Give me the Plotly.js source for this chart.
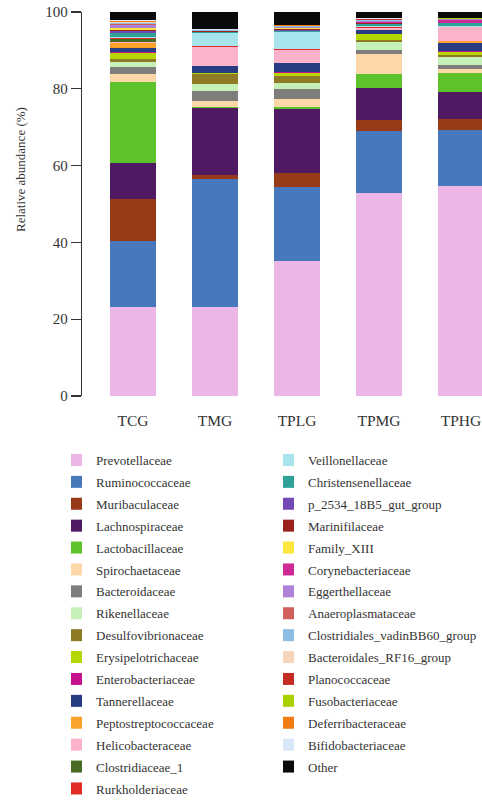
<!DOCTYPE html>
<html>
<head>
<meta charset="utf-8">
<script src="https://cdn.plot.ly/plotly-3.0.1.min.js"></script>
<style>html,body{margin:0;padding:0;background:#fff;}#chart{width:482px;height:801px;}</style>
</head>
<body>
<div id="chart"></div>
<script>
const groups = ["TCG", "TMG", "TPLG", "TPMG", "TPHG"];

const families = [
  "Prevotellaceae", "Ruminococcaceae", "Muribaculaceae", "Lachnospiraceae",
  "Lactobacillaceae", "Spirochaetaceae", "Bacteroidaceae", "Rikenellaceae",
  "Desulfovibrionaceae", "Erysipelotrichaceae", "Enterobacteriaceae", "Tannerellaceae",
  "Peptostreptococcaceae", "Helicobacteraceae", "Clostridiaceae_1", "Rurkholderiaceae",
  "Veillonellaceae", "Christensenellaceae", "p_2534_18B5_gut_group", "Marinifilaceae",
  "Family_XIII", "Corynebacteriaceae", "Eggerthellaceae", "Anaeroplasmataceae",
  "Clostridiales_vadinBB60_group", "Bacteroidales_RF16_group", "Planococcaceae",
  "Fusobacteriaceae", "Deferribacteraceae", "Bifidobacteriaceae", "Other"
];

const colors = [
  "#ECB6E6", "#4878BC", "#963A18", "#4F1A62",
  "#5EC22A", "#FED7A8", "#7F7C7C", "#C6F0B8",
  "#8F7A25", "#B5D600", "#C4128F", "#283C84",
  "#FAA22A", "#FDB2CC", "#476B23", "#E22C26",
  "#A7E4EC", "#2EA296", "#7349B4", "#9B211C",
  "#FDE63D", "#CE2A95", "#AD82D8", "#D25F5C",
  "#8EBDE4", "#F6D4BA", "#C32C23",
  "#A9D000", "#F27E13", "#D8E8F8", "#0A0A0A"
];

// values per family, order: TCG, TMG, TPLG, TPMG, TPHG (%)
const prevotellaceae        = [23.3, 23.1, 35.2, 52.8, 54.8];
const ruminococcaceae       = [17.1, 33.3, 19.3, 16.2, 14.5];
const muribaculaceae        = [11.0, 1.15, 3.5, 2.9, 2.8];
const lachnospiraceae       = [9.2, 17.5, 16.7, 8.3, 7.1];
const lactobacillaceae      = [21.25, 0.1, 0.6, 3.65, 5.0];
const spirochaetaceae       = [2.0, 1.7, 2.0, 5.2, 0.9];
const bacteroidaceae        = [1.9, 2.6, 2.6, 1.05, 1.1];
const rikenellaceae         = [1.3, 1.75, 1.5, 2.2, 2.2];
const desulfovibrionaceae   = [0.6, 2.7, 2.0, 0.4, 0.4];
const erysipelotrichaceae   = [1.56, 0.2, 0.8, 1.6, 0.9];
const enterobacteriaceae    = [0.3, 0.1, 0.1, 0.1, 0.1];
const tannerellaceae        = [1.0, 1.75, 2.3, 0.9, 2.1];
const peptostreptococcaceae = [1.5, 0.1, 0.1, 0.1, 0.5];
const helicobacteraceae     = [0.3, 4.9, 3.3, 0.4, 3.6];
const clostridiaceae1       = [0.6, 0.05, 0.05, 0.1, 0.05];
const rurkholderiaceae      = [0.3, 0.05, 0.2, 0.1, 0.1];
const veillonellaceae       = [0.3, 3.5, 4.5, 0.3, 0.3];
const christensenellaceae   = [1.0, 0.3, 0.4, 0.5, 0.6];
const p2534gutGroup         = [0.6, 0.05, 0.1, 0.2, 0.05];
const marinifilaceae        = [0.3, 0.05, 0.4, 0.1, 0.05];
const familyXIII            = [0.3, 0.05, 0.1, 0.1, 0.05];
const corynebacteriaceae    = [0.2, 0.05, 0.1, 0.1, 0.8];
const eggerthellaceae       = [0.8, 0.05, 0.2, 0.3, 0.1];
const anaeroplasmataceae    = [0.2, 0.05, 0.1, 0.1, 0.05];
const clostridialesVadin    = [0.2, 0.05, 0.1, 0.2, 0.05];
const bacteroidalesRF16     = [0.2, 0.05, 0.1, 0.1, 0.05];
const planococcaceae        = [0.1, 0.05, 0.05, 0.05, 0.05];
const fusobacteriaceae      = [0.1, 0.05, 0.05, 0.05, 0.05];
const deferribacteraceae    = [0.1, 0.05, 0.05, 0.05, 0.05];
const bifidobacteriaceae    = [0.4, 0.05, 0.1, 0.2, 0.05];
const other                 = [2.0, 4.5, 3.3, 1.65, 1.55];

const yTicks = [0, 20, 40, 60, 80, 100];
const yTitle = "Relative abundance (%)";

const seriesValues = [
  prevotellaceae, ruminococcaceae, muribaculaceae, lachnospiraceae,
  lactobacillaceae, spirochaetaceae, bacteroidaceae, rikenellaceae,
  desulfovibrionaceae, erysipelotrichaceae, enterobacteriaceae, tannerellaceae,
  peptostreptococcaceae, helicobacteraceae, clostridiaceae1, rurkholderiaceae,
  veillonellaceae, christensenellaceae, p2534gutGroup, marinifilaceae,
  familyXIII, corynebacteriaceae, eggerthellaceae, anaeroplasmataceae,
  clostridialesVadin, bacteroidalesRF16, planococcaceae,
  fusobacteriaceae, deferribacteraceae, bifidobacteriaceae, other
];

const FONT = "'Liberation Serif', 'Times New Roman', serif";

const traces = families.map((name, i) => ({
  type: "bar",
  name: name,
  x: groups,
  y: seriesValues[i],
  width: 0.57,
  marker: { color: colors[i], line: { width: 0 } },
  legend: i < 16 ? "legend" : "legend2",
  legendgroup: name,
  hoverinfo: "name+y"
}));

const legendCommon = {
  xref: "paper", yref: "container",
  xanchor: "left", yanchor: "top",
  y: 1 - 445 / 801,
  font: { family: FONT, size: 13, color: "#333" },
  traceorder: "grouped",
  tracegroupgap: 2,
  indentation: -15,
  bgcolor: "rgba(0,0,0,0)",
  borderwidth: 0
};

const layout = {
  width: 482,
  height: 801,
  margin: { l: 82, r: 0, t: 12, b: 405, pad: 0 },
  barmode: "stack",
  paper_bgcolor: "#fff",
  plot_bgcolor: "#fff",
  font: { family: FONT, color: "#333" },
  showlegend: true,
  xaxis: {
    type: "category",
    range: [-0.622, 4.256],
    showline: false,
    showgrid: false,
    zeroline: false,
    ticks: "outside",
    ticklen: 10,
    tickcolor: "rgba(0,0,0,0)",
    tickangle: 0,
    automargin: false,
    tickfont: { family: FONT, size: 15.5, color: "#333" },
    fixedrange: true
  },
  yaxis: {
    range: [0, 100],
    tickvals: yTicks,
    ticktext: yTicks.map(String),
    showline: true,
    linecolor: "#333",
    linewidth: 1.3,
    ticks: "outside",
    ticklen: 10,
    tickwidth: 1.3,
    tickcolor: "#333",
    showgrid: false,
    zeroline: false,
    automargin: false,
    tickfont: { family: FONT, size: 15, color: "#333" },
    fixedrange: true
  },
  annotations: [{
    text: yTitle,
    xref: "paper", yref: "paper",
    x: (20 - 82) / 400, y: (396 - 170) / 384,
    xanchor: "center", yanchor: "middle",
    textangle: -90,
    showarrow: false,
    font: { family: FONT, size: 13, color: "#333" }
  }],
  legend: Object.assign({}, legendCommon, { x: (71 - 82) / 400 }),
  legend2: Object.assign({}, legendCommon, { x: (290 - 82) / 400 })
};

Plotly.newPlot("chart", traces, layout, { displayModeBar: false, staticPlot: true });
</script>
</body>
</html>
